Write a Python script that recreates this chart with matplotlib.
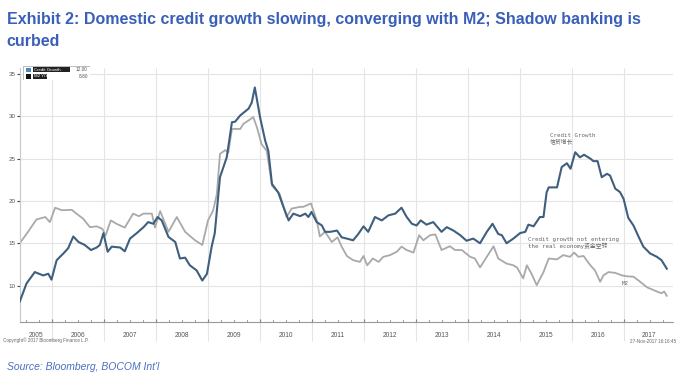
import numpy as np
import matplotlib
matplotlib.use("Agg")
import matplotlib.pyplot as plt
from matplotlib import font_manager
from matplotlib.patches import Rectangle

# credit growth (% y/y)
credit_t = [2005.38, 2005.51, 2005.67, 2005.83, 2005.93, 2005.99, 2006.09, 2006.22, 2006.31, 2006.41,
            2006.51, 2006.63, 2006.75, 2006.86, 2006.92, 2006.99, 2007.07, 2007.15, 2007.31, 2007.40,
            2007.50, 2007.63, 2007.76, 2007.85, 2007.95, 2008.03, 2008.11, 2008.24, 2008.37, 2008.46,
            2008.56, 2008.65, 2008.78, 2008.89, 2008.98, 2009.07, 2009.13, 2009.23, 2009.36, 2009.46,
            2009.52, 2009.62, 2009.78, 2009.84, 2009.90, 2010.00, 2010.10, 2010.16, 2010.23, 2010.35,
            2010.45, 2010.55, 2010.64, 2010.77, 2010.87, 2010.93, 2010.99, 2011.09, 2011.19, 2011.25,
            2011.35, 2011.48, 2011.57, 2011.67, 2011.79, 2011.89, 2011.99, 2012.08, 2012.21, 2012.34,
            2012.47, 2012.60, 2012.72, 2012.82, 2012.92, 2013.01, 2013.09, 2013.20, 2013.33, 2013.49,
            2013.59, 2013.72, 2013.85, 2013.97, 2014.10, 2014.23, 2014.36, 2014.47, 2014.58, 2014.65,
            2014.74, 2014.87, 2015.00, 2015.10, 2015.16, 2015.26, 2015.38, 2015.45, 2015.51, 2015.55,
            2015.71, 2015.80, 2015.90, 2015.97, 2016.06, 2016.15, 2016.23, 2016.35, 2016.41, 2016.49,
            2016.57, 2016.67, 2016.73, 2016.83, 2016.92, 2016.99, 2017.08, 2017.18, 2017.28, 2017.37,
            2017.50, 2017.63, 2017.72, 2017.82]
credit_v = [8.1, 10.25, 11.6, 11.2, 11.4, 10.7, 13.0, 13.8, 14.4, 15.8,
            15.15, 14.8, 14.2, 14.5, 14.8, 16.2, 14.0, 14.6, 14.5, 14.05,
            15.55, 16.2, 16.9, 17.5, 17.3, 18.1, 17.7, 15.75, 15.15, 13.2,
            13.3, 12.4, 11.8, 10.6, 11.4, 14.6, 16.2, 22.8, 25.15, 29.3,
            29.35, 30.1, 30.9, 31.6, 33.4, 29.9, 27.1, 25.9, 22.0, 21.0,
            19.3, 17.7, 18.5, 18.2, 18.5, 18.1, 18.7, 17.5, 17.1, 16.35,
            16.35, 16.5, 15.7, 15.55, 15.35, 16.1, 17.0, 16.35, 18.1, 17.7,
            18.3, 18.5, 19.2, 18.1, 17.3, 17.1, 17.7, 17.2, 17.5, 16.35,
            16.9, 16.5, 15.95, 15.3, 15.55, 15.0, 16.35, 17.3, 16.1, 15.95,
            15.0, 15.55, 16.2, 16.35, 17.2, 17.0, 18.1, 18.1, 21.0, 21.6,
            21.6, 24.0, 24.45, 23.8, 25.75, 25.15, 25.45, 25.0, 24.7, 24.7,
            22.8, 23.2, 23.0, 21.45, 21.05, 20.25, 18.0, 17.1, 15.75, 14.6,
            13.8, 13.4, 13.0, 12.0]

# M2 (% y/y)
m2_t = [2005.38, 2005.54, 2005.70, 2005.87, 2005.96, 2006.06, 2006.19, 2006.38, 2006.47, 2006.60,
        2006.73, 2006.86, 2006.97, 2007.03, 2007.13, 2007.24, 2007.40, 2007.56, 2007.67, 2007.76,
        2007.92, 2007.98, 2008.08, 2008.24, 2008.40, 2008.56, 2008.75, 2008.89, 2009.00, 2009.10,
        2009.17, 2009.23, 2009.33, 2009.39, 2009.46, 2009.62, 2009.68, 2009.78, 2009.87, 2009.94,
        2010.03, 2010.13, 2010.23, 2010.38, 2010.51, 2010.61, 2010.77, 2010.83, 2010.98, 2011.09,
        2011.15, 2011.25, 2011.38, 2011.49, 2011.57, 2011.67, 2011.79, 2011.92, 2011.99, 2012.06,
        2012.17, 2012.28, 2012.37, 2012.50, 2012.63, 2012.72, 2012.82, 2012.95, 2013.06, 2013.14,
        2013.27, 2013.37, 2013.49, 2013.65, 2013.75, 2013.88, 2014.04, 2014.13, 2014.23, 2014.36,
        2014.49, 2014.58, 2014.74, 2014.87, 2014.94, 2015.06, 2015.13, 2015.22, 2015.32, 2015.45,
        2015.55, 2015.71, 2015.83, 2015.96, 2016.04, 2016.12, 2016.22, 2016.35, 2016.44, 2016.54,
        2016.60, 2016.70, 2016.83, 2016.96, 2017.05, 2017.18, 2017.31, 2017.44, 2017.63, 2017.72,
        2017.77, 2017.82]
m2_v = [15.0, 16.35, 17.8, 18.1, 17.5, 19.2, 18.9, 18.95, 18.5, 17.9,
        16.9, 17.0, 16.7, 15.9, 17.7, 17.3, 16.85, 18.5, 18.2, 18.5,
        18.5, 16.85, 18.8, 16.35, 18.1, 16.35, 15.35, 14.8, 17.7, 18.9,
        20.8, 25.55, 26.0, 25.7, 28.5, 28.5, 29.1, 29.5, 29.9, 28.7,
        26.7, 25.9, 21.8, 20.8, 18.1, 19.1, 19.3, 19.3, 19.7, 17.7,
        15.8, 16.35, 15.15, 15.7, 14.6, 13.5, 13.0, 12.8, 13.5, 12.4,
        13.2, 12.8, 13.4, 13.6, 14.0, 14.6, 14.2, 13.9, 15.95, 15.35,
        15.95, 16.05, 14.2, 14.65, 14.2, 14.2, 13.4, 13.2, 12.15, 13.4,
        14.65, 13.2, 12.6, 12.4, 12.15, 10.85, 12.4, 11.4, 10.05, 11.6,
        13.2, 13.1, 13.6, 13.4, 13.9, 13.4, 13.5, 12.4, 11.8, 10.45,
        11.2, 11.6, 11.5, 11.2, 11.1, 11.05, 10.45, 9.8, 9.3, 9.1,
        9.3, 8.8]

years = list(range(2005, 2018))
yticks = [10, 15, 20, 25, 30, 35]


def pick_font(names):
    for n in names:
        try:
            font_manager.findfont(n, fallback_to_default=False)
            return n
        except Exception:
            pass
    return "DejaVu Sans"


title_font = pick_font(["Liberation Sans Narrow", "Liberation Sans"])
body_font = pick_font(["Liberation Sans", "DejaVu Sans"])
blue_txt = "#3a5fb8"

fig = plt.figure(figsize=(6.8, 3.75), dpi=100)
fig.patch.set_facecolor("white")

fig.text(0.010, 0.947, "Exhibit 2: Domestic credit growth slowing, converging with M2; Shadow banking is",
         fontsize=11.5, fontweight="bold", color=blue_txt, family=title_font, va="center")
fig.text(0.010, 0.888, "curbed",
         fontsize=11.5, fontweight="bold", color=blue_txt, family=title_font, va="center")

ax = fig.add_axes([0.0294, 0.1413, 0.9603, 0.6774])
xmin, xmax = 2005.385, 2017.94
ax.set_xlim(xmin, xmax)
ax.set_ylim(5.7, 35.7)

# grid
for y in yticks:
    ax.axhline(y, color="#e4e4e4", lw=0.8, zorder=0)
for yr in years[1:]:
    ax.vlines(yr, -0.075, 1, transform=ax.get_xaxis_transform(), color="#e4e4e4",
              lw=0.8, zorder=0, clip_on=False)

ax.plot(m2_t, m2_v, color="#a9a9a9", lw=1.3, zorder=2)
ax.plot(credit_t, credit_v, color="#3f5f7f", lw=1.5, zorder=3)

ax.set_yticks(yticks)
ax.set_yticklabels([str(y) for y in yticks], fontsize=4.5, color="#555555", family=body_font)
ax.tick_params(axis="y", length=2, width=0.8, color="#444444", pad=1)

# year labels centred in the visible part of each year
ax.set_xticks([yr for yr in years[1:]])
ax.set_xticklabels([])
centers = [(max(yr, xmin) + min(yr + 1, xmax)) / 2 for yr in years]
ax.set_xticks(centers, minor=True)
ax.set_xticklabels([str(y) for y in years], minor=True, fontsize=4.8, color="#555555", family=body_font)
ax.tick_params(axis="x", which="minor", length=0, pad=7)
ax.tick_params(axis="x", which="major", length=2, direction="in", color="#777777")
quarters = [q for q in np.arange(2005.5, 2018, 0.25) if xmin < q < xmax]
for q in quarters:
    ax.plot([q, q], [0, 0.008], transform=ax.get_xaxis_transform(), color="#888888", lw=0.6, clip_on=False)

for s in ["top", "right"]:
    ax.spines[s].set_visible(False)
ax.spines["left"].set_color("#c8c8c8")
ax.spines["bottom"].set_color("#999999")
ax.spines["left"].set_linewidth(0.8)
ax.spines["bottom"].set_linewidth(0.8)

# annotations
mono = ["DejaVu Sans Mono", "Noto Sans CJK SC"]
ax.text(2015.58, 28.0, "Credit Growth\n信贷增长", fontsize=4.2, color="#666666",
        family=mono, va="top", ha="left", linespacing=1.1)
ax.text(2015.15, 15.7, "Credit growth not entering\nthe real economy资金空转", fontsize=4.2,
        color="#666666", family=mono, va="top", ha="left", linespacing=1.1)
ax.text(2016.96, 10.3, "M2", fontsize=4.2, color="#666666", family=mono, va="center", ha="left")

# legend box
lg = fig.add_axes([0.034, 0.786, 0.099, 0.038])
lg.set_xlim(0, 1)
lg.set_ylim(0, 1)
lg.axis("off")
lg.add_patch(Rectangle((0, 0), 1, 1, facecolor="white", edgecolor="#b0b0b0", lw=0.6))
lg.add_patch(Rectangle((0.05, 0.58), 0.06, 0.3, facecolor="#4f86c6", edgecolor="none"))
lg.add_patch(Rectangle((0.05, 0.12), 0.06, 0.3, facecolor="#111111", edgecolor="none"))
lg.add_patch(Rectangle((0.14, 0.55), 0.56, 0.38, facecolor="#222222", edgecolor="none"))
lg.add_patch(Rectangle((0.14, 0.08), 0.22, 0.38, facecolor="#222222", edgecolor="none"))
lg.text(0.16, 0.74, "Credit Growth", fontsize=3.2, color="white", va="center", family=body_font)
lg.text(0.16, 0.27, "M2 Y/Y", fontsize=3.2, color="white", va="center", family=body_font)
lg.text(0.96, 0.74, "12.00", fontsize=3.4, color="#555555", va="center", ha="right", family=body_font)
lg.text(0.96, 0.27, "8.80", fontsize=3.4, color="#555555", va="center", ha="right", family=body_font)

fig.text(0.005, 0.093, "Copyright\u00a9 2017 Bloomberg Finance L.P.", fontsize=3.3, color="#666666",
         family=body_font, va="center")
fig.text(0.994, 0.090, "27-Nov-2017 16:16:45", fontsize=3.3, color="#666666",
         family=body_font, va="center", ha="right")

fig.text(0.010, 0.021, "Source: Bloomberg, BOCOM Int'l", fontsize=7.5, style="italic",
         color="#4a6fc0", family=body_font, va="center")

fig.savefig("out.png", dpi=100)
